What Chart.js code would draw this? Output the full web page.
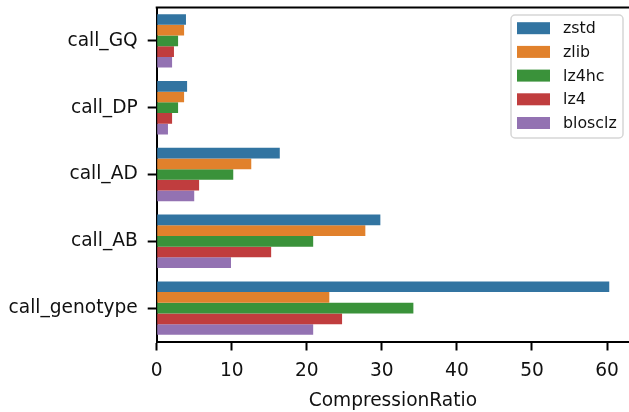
<!DOCTYPE html>
<html>
<head>
<meta charset="utf-8">
<script src="https://cdn.jsdelivr.net/npm/chart.js@4.4.1/dist/chart.umd.min.js"></script>
<style>
  html, body { margin: 0; padding: 0; background: #fff; overflow: hidden; }
  #wrap { width: 629px; height: 412px; }
</style>
</head>
<body>
<div id="wrap"><canvas id="chart" width="629" height="412"></canvas></div>
<script>
const categories = ['call_GQ', 'call_DP', 'call_AD', 'call_AB', 'call_genotype'];
const seriesNames = ['zstd', 'zlib', 'lz4hc', 'lz4', 'blosclz'];
const zstd    = [3.9, 4.05, 16.4, 29.8, 60.3];
const zlib    = [3.65, 3.65, 12.6, 27.8, 23.0];
const lz4hc   = [2.85, 2.85, 10.2, 20.85, 34.2];
const lz4     = [2.3, 2.05, 5.65, 15.25, 24.7];
const blosclz = [2.05, 1.5, 5.0, 9.9, 20.85];
const xTicks = [0, 10, 20, 30, 40, 50, 60];

const seriesValues = [zstd, zlib, lz4hc, lz4, blosclz];
const colors = ['#3274a1', '#e1812c', '#3a923a', '#c03d3e', '#9372b2'];

const FONT = 'DejaVu Sans';
const TEXT = '#111';

// legend box drawn inside the plot, like matplotlib's
const boxLegend = {
    id: 'boxLegend',
    afterDraw(chart) {
        const ctx = chart.ctx;
        const x0 = 511, y0 = 15, w = 112, h = 123;
        ctx.save();
        ctx.beginPath();
        ctx.roundRect(x0, y0, w, h, 4);
        ctx.fillStyle = 'rgba(255,255,255,0.8)';
        ctx.fill();
        ctx.strokeStyle = '#d6d6d6';
        ctx.lineWidth = 1.5;
        ctx.stroke();
        ctx.font = '15.8px "' + FONT + '"';
        ctx.textBaseline = 'middle';
        chart.data.datasets.forEach((ds, i) => {
            const cy = 28.2 + i * 23.7;
            ctx.fillStyle = ds.backgroundColor;
            ctx.fillRect(517, cy - 6, 33, 12);
            ctx.fillStyle = TEXT;
            ctx.fillText(ds.label, 563, cy + 1);
        });
        ctx.restore();
    }
};

// top spine
const topSpine = {
    id: 'topSpine',
    afterDraw(chart) {
        const a = chart.chartArea, ctx = chart.ctx;
        ctx.save();
        ctx.strokeStyle = '#000';
        ctx.lineWidth = 2;
        ctx.beginPath();
        ctx.moveTo(a.left - 1, a.top);
        ctx.lineTo(a.right + 2, a.top);
        ctx.stroke();
        ctx.restore();
    }
};

new Chart(document.getElementById('chart'), {
    type: 'bar',
    data: {
        labels: categories,
        datasets: seriesNames.map((name, i) => ({
            label: name,
            data: seriesValues[i],
            backgroundColor: colors[i],
            borderWidth: 0,
            categoryPercentage: 0.8,
            barPercentage: 1.0,
        })),
    },
    options: {
        indexAxis: 'y',
        responsive: false,
        animation: false,
        layout: { padding: { top: 7.5, right: 0, left: 0, bottom: 0 } },
        plugins: {
            legend: { display: false },
            tooltip: { enabled: false },
        },
        scales: {
            x: {
                type: 'linear',
                min: 0,
                max: 62.93,
                afterBuildTicks: (axis) => { axis.ticks = xTicks.map(v => ({ value: v })); },
                afterFit: (axis) => {
                    axis.height = 70.5;
                    axis.paddingLeft = 0;
                    axis.paddingRight = 0;
                },
                grid: { drawOnChartArea: false, tickLength: 9, tickWidth: 2, tickColor: '#000' },
                border: { color: '#000', width: 2 },
                ticks: { color: TEXT, font: { family: FONT, size: 18.6 }, padding: 10, maxRotation: 0 },
                title: { display: true, text: 'CompressionRatio', color: TEXT, font: { family: FONT, size: 18.6 }, padding: { top: -1, bottom: 0 } },
            },
            y: {
                type: 'category',
                offset: true,
                afterFit: (axis) => {
                    axis.width = 156.7;
                    axis.paddingTop = 0;
                    axis.paddingBottom = 0;
                },
                grid: { drawOnChartArea: false, tickLength: 9, tickWidth: 2, tickColor: '#000', offset: false },
                border: { color: '#000', width: 2 },
                ticks: { color: TEXT, font: { family: FONT, size: 18.6 }, padding: 10 },
            },
        },
    },
    plugins: [boxLegend, topSpine],
});
</script>
</body>
</html>
